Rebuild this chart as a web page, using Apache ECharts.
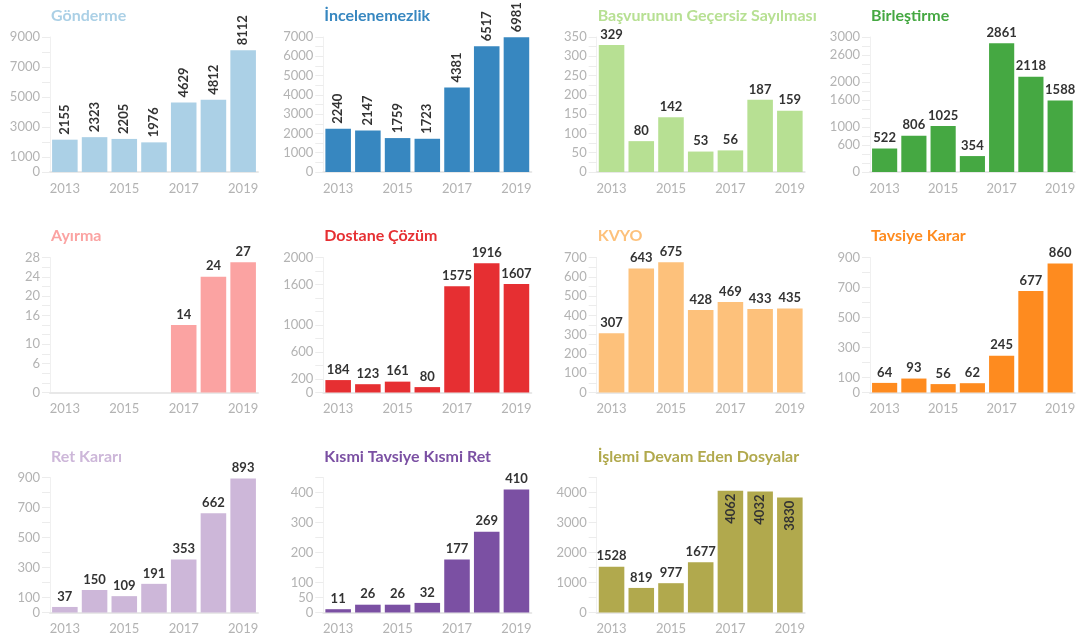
<!DOCTYPE html>
<html>
<head>
<meta charset="utf-8">
<script src="https://cdn.jsdelivr.net/npm/echarts@6/dist/echarts.min.js"></script>
<style>
  html, body { margin: 0; padding: 0; background: #fff; }
  #main { width: 1078px; height: 640px; }
</style>
</head>
<body>
<div id="main"></div>
<script>
// yıllar
var years = ['2013', '2014', '2015', '2016', '2017', '2018', '2019'];

// seriler
var gonderme = [2155, 2323, 2205, 1976, 4629, 4812, 8112];
var incelenemezlik = [2240, 2147, 1759, 1723, 4381, 6517, 6981];
var gecersiz = [329, 80, 142, 53, 56, 187, 159];
var birlestirme = [522, 806, 1025, 354, 2861, 2118, 1588];
var ayirma = [null, null, null, null, 14, 24, 27];
var dostane = [184, 123, 161, 80, 1575, 1916, 1607];
var kvyo = [307, 643, 675, 428, 469, 433, 435];
var tavsiye = [64, 93, 56, 62, 245, 677, 860];
var ret = [37, 150, 109, 191, 353, 662, 893];
var kismi = [11, 26, 26, 32, 177, 269, 410];
var islemi = [1528, 819, 977, 1677, 4062, 4032, 3830];

// eksen etiketleri
var ticksGonderme = [0, 1000, 3000, 5000, 7000, 9000];
var ticksIncelenemezlik = [0, 1000, 2000, 3000, 4000, 5000, 6000, 7000];
var ticksGecersiz = [0, 50, 100, 150, 200, 250, 300, 350];
var ticksBirlestirme = [0, 600, 1000, 1600, 2000, 2600, 3000];
var ticksAyirma = [0, 6, 10, 16, 20, 24, 28];
var ticksDostane = [0, 200, 600, 1000, 1600, 2000];
var ticksKvyo = [0, 100, 200, 300, 400, 500, 600, 700];
var ticksTavsiye = [0, 100, 300, 500, 700, 900];
var ticksRet = [0, 100, 300, 500, 700, 900];
var ticksKismi = [0, 50, 100, 200, 300, 400];
var ticksIslemi = [0, 1000, 2000, 3000, 4000];

// paneller
var panels = [
    { title: 'Gönderme', data: gonderme, ticks: ticksGonderme, max: 9000, step: 1000, color: '#abd0e6', rot: 'all' },
    { title: 'İncelenemezlik', data: incelenemezlik, ticks: ticksIncelenemezlik, max: 7000, step: 500, color: '#3787c0', rot: 'all' },
    { title: 'Başvurunun Geçersiz Sayılması', data: gecersiz, ticks: ticksGecersiz, max: 350, step: 25, color: '#b7e093', rot: 'none' },
    { title: 'Birleştirme', data: birlestirme, ticks: ticksBirlestirme, max: 3000, step: 200, color: '#45a842', rot: 'none' },
    { title: 'Ayırma', data: ayirma, ticks: ticksAyirma, max: 28, step: 2, color: '#fba3a2', rot: 'none' },
    { title: 'Dostane Çözüm', data: dostane, ticks: ticksDostane, max: 2000, step: 200, color: '#e62f32', rot: 'none' },
    { title: 'KVYO', data: kvyo, ticks: ticksKvyo, max: 700, step: 50, color: '#fdc17b', rot: 'none' },
    { title: 'Tavsiye Karar', data: tavsiye, ticks: ticksTavsiye, max: 900, step: 100, color: '#fe8b1f', rot: 'none' },
    { title: 'Ret Kararı', data: ret, ticks: ticksRet, max: 900, step: 100, color: '#cdb7d9', rot: 'none' },
    { title: 'Kısmi Tavsiye Kısmi Ret', data: kismi, ticks: ticksKismi, max: 450, step: 50, color: '#7b50a3', rot: 'none' },
    { title: 'İşlemi Devam Eden Dosyalar', data: islemi, ticks: ticksIslemi, max: 4500, step: 500, color: '#b1a94d', rot: 'inside', from: 4 }
];

var colLeft = [50, 323.3, 596.7, 870];
var rowTop = [37, 257.5, 477.5];
var titleTop = [8, 228, 449];
var font = 'Lato, "Noto Sans", sans-serif';

function initEcharts() {
    var myChart = echarts.init(document.getElementById('main'));
    var grid = [], xAxis = [], yAxis = [], series = [], title = [];

    panels.forEach(function (p, i) {
        var c = i % 4, r = Math.floor(i / 4);
        grid.push({ left: colLeft[c], top: rowTop[r], width: 208, height: 135 });
        title.push({
            text: p.title, left: colLeft[c] + 1, top: titleTop[r], padding: 0,
            textStyle: { color: p.color, fontSize: 16, fontWeight: 'bold', fontFamily: font }
        });
        xAxis.push({
            type: 'category', gridIndex: i, data: years,
            axisLine: { lineStyle: { color: '#e8e8e8', width: 2 } },
            axisTick: { alignWithLabel: true, interval: 0, length: 7, lineStyle: { color: '#e6e6e6', width: 2 } },
            axisLabel: { interval: 1, color: '#b3b3b3', fontSize: 13, fontFamily: font, margin: 10 }
        });
        yAxis.push({
            type: 'value', gridIndex: i, min: 0, max: p.max, interval: p.step,
            splitLine: { show: false },
            axisLine: { show: true, lineStyle: { color: '#f0f0f0', width: 1 } },
            axisTick: { show: true, length: 8, lineStyle: { color: '#ececec' } },
            axisLabel: {
                color: '#b3b3b3', fontSize: 13, fontFamily: font, margin: 10,
                formatter: function (v) { return p.ticks.indexOf(v) >= 0 ? String(v) : ''; }
            }
        });

        var lblTop = { show: true, position: 'top', distance: 4, color: '#333', fontWeight: 'bold', fontSize: 13, fontFamily: font };
        var lblRot = { show: true, position: 'top', distance: 5, rotate: 90, align: 'left', verticalAlign: 'middle', color: '#333', fontWeight: 'bold', fontSize: 13, fontFamily: font };
        var lblIn = { show: true, position: 'insideTop', distance: 3, rotate: 90, align: 'right', verticalAlign: 'middle', color: '#333', fontWeight: 'bold', fontSize: 13, fontFamily: font };

        var items = p.data.map(function (v, k) {
            if (p.rot === 'inside' && k >= p.from) return { value: v, label: lblIn };
            return { value: v };
        });

        series.push({
            type: 'bar', xAxisIndex: i, yAxisIndex: i,
            data: items,
            barCategoryGap: '14%',
            itemStyle: { color: p.color },
            label: p.rot === 'all' ? lblRot : lblTop,
            animation: false
        });
    });

    myChart.setOption({
        animation: false,
        title: title, grid: grid, xAxis: xAxis, yAxis: yAxis, series: series
    });
    resize(myChart);
}

// yeniden boyutlandırma
function resize(echart) {
    window.onresize = function () {
        echart.resize();
    };
}

initEcharts();
</script>
</body>
</html>
